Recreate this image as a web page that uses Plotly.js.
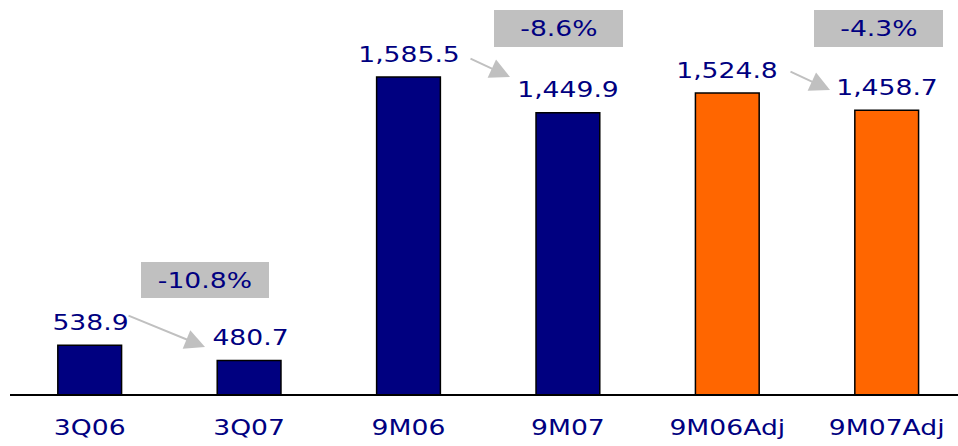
<!DOCTYPE html>
<html>
<head>
<meta charset="utf-8">
<script src="https://cdn.plot.ly/plotly-3.0.1.min.js"></script>
<style>html,body{margin:0;padding:0;background:#fff;}#chart{width:958px;height:446px;}</style>
</head>
<body>
<div id="chart"></div>
<script>
// ---- data ----
const categories = ["3Q06", "3Q07", "9M06", "9M07", "9M06Adj", "9M07Adj"];
const quarterCats = ["3Q06", "3Q07"];
const quarterValues = [538.9, 480.7];
const nineMonthCats = ["9M06", "9M07", "9M06Adj", "9M07Adj"];
const nineMonthValues = [1585.5, 1449.9, 1524.8, 1458.7];
const quarterLabels = ["538.9", "480.7"];
const nineMonthLabels = ["1,585.5", "1,449.9", "1,524.8", "1,458.7"];
const changeLabels = ["-10.8%", "-8.6%", "-4.3%"];

// ---- styling / layout ----
const W = 958, H = 446;
const M = {l: 10, r: 0, t: 0, b: 52};
const plotW = W - M.l - M.r, plotH = H - M.t - M.b;
const pxPerCat = 159.4;
const pxPerUnit = 0.262;
const navy = "#000080", orange = "#FF6600", grey = "#C0C0C0";
const FONT = "DejaVu Sans, Verdana, sans-serif";
const TEXT_STRETCH = 1.21;

const px2x = p => (p - M.l) / plotW;
const py2y = p => (H - M.b - p) / plotH;

const nineColors = nineMonthCats.map(c => c.indexOf("Adj") >= 0 ? orange : navy);

const traces = [
  {type: "bar", x: quarterCats, y: quarterValues, yaxis: "y2", width: 0.4,
   marker: {color: navy, line: {color: "#000", width: 1.5}}, hoverinfo: "skip"},
  {type: "bar", x: nineMonthCats, y: nineMonthValues, yaxis: "y", width: 0.4,
   marker: {color: nineColors, line: {color: "#000", width: 1.5}}, hoverinfo: "skip"}
];

const annotations = [];
quarterCats.forEach((c, i) => annotations.push({
  xref: "x", yref: "y2", x: c, y: quarterValues[i], text: quarterLabels[i],
  showarrow: false, yanchor: "middle", xanchor: "center", yshift: 23, xshift: 1,
  font: {family: FONT, size: 22, color: navy}
}));
nineMonthCats.forEach((c, i) => annotations.push({
  xref: "x", yref: "y", x: c, y: nineMonthValues[i], text: nineMonthLabels[i],
  showarrow: false, yanchor: "middle", xanchor: "center", yshift: 23, xshift: 0,
  font: {family: FONT, size: 22, color: navy}
}));

// percentage boxes (pixel rects)
const boxes = [[141, 262, 269, 298], [494, 10, 623, 47], [814, 10, 943, 47]];
const shapes = boxes.map(b => ({
  type: "rect", xref: "paper", yref: "paper",
  x0: px2x(b[0]), x1: px2x(b[2]), y0: py2y(b[3]), y1: py2y(b[1]),
  fillcolor: grey, line: {width: 0}, layer: "above"
}));
boxes.forEach((b, i) => annotations.push({
  xref: "paper", yref: "paper", x: px2x((b[0] + b[2]) / 2), y: py2y((b[1] + b[3]) / 2),
  text: changeLabels[i], showarrow: false, xanchor: "center", yanchor: "middle",
  font: {family: FONT, size: 22, color: navy}
}));

// arrows: [tipX, tipY, tailX, tailY]
const arrows = [[205, 347, 127, 315], [510, 77, 469, 58], [830, 90, 789, 71]];
arrows.forEach(a => annotations.push({
  xref: "paper", yref: "paper", x: px2x(a[0]), y: py2y(a[1]),
  ax: a[2] - a[0], ay: a[3] - a[1], text: "", showarrow: true,
  arrowhead: 2, arrowwidth: 2, arrowsize: 2, arrowcolor: grey, standoff: 0, startstandoff: 0
}));

const layout = {
  width: W, height: H, margin: M,
  paper_bgcolor: "#fff", plot_bgcolor: "#fff",
  showlegend: false, barmode: "overlay",
  xaxis: {type: "category", categoryorder: "array", categoryarray: categories,
          range: [-0.5, -0.5 + plotW / pxPerCat], showline: true, linecolor: "#000", linewidth: 1.5,
          showgrid: false, zeroline: false, ticks: "", ticklabelstandoff: 13,
          tickfont: {family: FONT, size: 22, color: navy}, fixedrange: true},
  yaxis: {range: [376, 376 + plotH / pxPerUnit], visible: false, showgrid: false, zeroline: false, fixedrange: true},
  yaxis2: {range: [353, 353 + plotH / pxPerUnit], overlaying: "y", visible: false, showgrid: false, zeroline: false, fixedrange: true},
  shapes: shapes, annotations: annotations
};

// widen the text horizontally (the reference lettering is stretched)
function stretchText(gd) {
  gd.querySelectorAll(".xtick text, text.annotation-text").forEach(t => {
    if (!t.textContent) return;
    const x = parseFloat(t.getAttribute("x")) || 0;
    const y = parseFloat(t.getAttribute("y")) || 0;
    const prev = t.getAttribute("transform") || "";
    t.setAttribute("transform", prev + " translate(" + x + "," + y + ") scale(" + TEXT_STRETCH + ",1) translate(" + (-x) + "," + (-y) + ")");
  });
}

Plotly.newPlot("chart", traces, layout, {staticPlot: true, displayModeBar: false})
  .then(gd => stretchText(gd));
</script>
</body>
</html>
